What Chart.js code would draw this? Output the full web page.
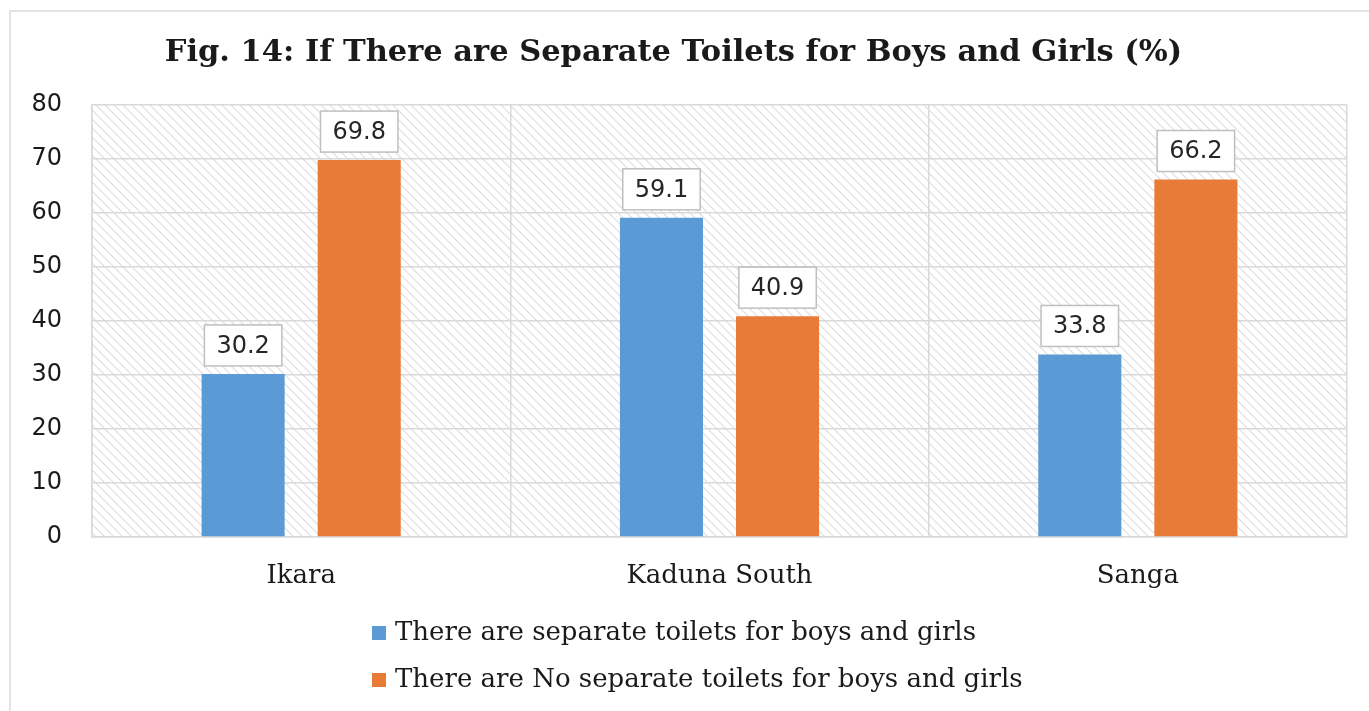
<!DOCTYPE html>
<html>
<head>
<meta charset="utf-8">
<title>Separate toilets</title>
<script src="https://cdn.jsdelivr.net/npm/chart.js@4.4.1/dist/chart.umd.min.js"></script>
<style>
  html, body { margin: 0; padding: 0; background: #fff; }
  #wrap { width: 1369px; height: 711px; }
</style>
</head>
<body>
<div id="wrap"><canvas id="myChart" width="1369" height="711"></canvas></div>
<script>
// LGA names and percentages
const lgas = ['Ikara', 'Kaduna South', 'Sanga'];
const separateYes = [30.2, 59.1, 33.8];
const separateNo = [69.8, 40.9, 66.2];
const seriesNames = [
  'There are separate toilets for boys and girls',
  'There are No separate toilets for boys and girls'
];
const yTicks = [0, 10, 20, 30, 40, 50, 60, 70, 80];

const blue = '#5B9BD5';
const orange = '#E87B37';
const gridCol = '#d9d9d9';

// diagonal hatching for the plot area
function hatchPattern(ctx) {
  let c = document.createElement('canvas');
  c.width = 9; c.height = 9;
  let p = c.getContext('2d');
  p.strokeStyle = '#dedede';
  p.lineWidth = 1.2;
  p.beginPath();
  p.moveTo(-1, -1); p.lineTo(10, 10);
  p.moveTo(-1, 8); p.lineTo(1, 10);
  p.moveTo(8, -1); p.lineTo(10, 1);
  p.stroke();
  return ctx.createPattern(c, 'repeat');
}

const backdrop = {
  id: 'backdrop',
  beforeDraw(chart) {
    const {ctx, chartArea: a} = chart;
    ctx.save();
    ctx.strokeStyle = '#e3e3e3';
    ctx.lineWidth = 2;
    ctx.beginPath();
    ctx.moveTo(10, 711); ctx.lineTo(10, 11); ctx.lineTo(1369, 11);
    ctx.stroke();
    ctx.fillStyle = hatchPattern(ctx);
    ctx.fillRect(a.left, a.top, a.right - a.left, a.bottom - a.top);
    ctx.restore();
  }
};

// value boxes above each bar
const valueBoxes = {
  id: 'valueBoxes',
  afterDatasetsDraw(chart) {
    const ctx = chart.ctx;
    ctx.save();
    ctx.font = '24px "DejaVu Sans"';
    ctx.textAlign = 'center';
    ctx.textBaseline = 'middle';
    chart.data.datasets.forEach((ds, i) => {
      chart.getDatasetMeta(i).data.forEach((bar, j) => {
        const txt = ds.data[j].toFixed(1);
        const w = ctx.measureText(txt).width + 24;
        const h = 41;
        const x = bar.x - w / 2;
        const y = bar.y - 8 - h;
        ctx.fillStyle = '#fff';
        ctx.fillRect(x, y, w, h);
        ctx.strokeStyle = '#bfbfbf';
        ctx.lineWidth = 1.5;
        ctx.strokeRect(x, y, w, h);
        ctx.fillStyle = '#262626';
        ctx.fillText(txt, bar.x, y + h / 2 + 1);
      });
    });
    ctx.restore();
  }
};

// stacked legend under the axis
const stackedLegend = {
  id: 'stackedLegend',
  afterDraw(chart) {
    const ctx = chart.ctx;
    ctx.save();
    ctx.font = '26px "DejaVu Serif"';
    ctx.textBaseline = 'middle';
    chart.data.datasets.forEach((ds, i) => {
      const y = 633 + i * 47;
      ctx.fillStyle = ds.backgroundColor;
      ctx.fillRect(372, y - 7, 14, 14);
      ctx.fillStyle = '#1a1a1a';
      ctx.fillText(ds.label, 395, y);
    });
    ctx.restore();
  }
};

let ctx = document.getElementById('myChart').getContext('2d');
let myChart = new Chart(ctx, {
  type: 'bar',
  data: {
    labels: lgas,
    datasets: [
      { label: seriesNames[0], data: separateYes, backgroundColor: blue },
      { label: seriesNames[1], data: separateNo, backgroundColor: orange }
    ]
  },
  options: {
    responsive: false,
    animation: false,
    layout: { padding: { left: 0, right: 22, top: 0, bottom: 114 } },
    datasets: { bar: { categoryPercentage: 0.555, barPercentage: 0.7155 } },
    plugins: {
      legend: { display: false },
      tooltip: { enabled: false },
      title: {
        display: true,
        text: 'Fig. 14: If There are Separate Toilets for Boys and Girls (%)',
        color: '#1a1a1a',
        font: { family: '"DejaVu Serif"', size: 30.5, weight: 'bold', lineHeight: 1.2 },
        padding: { top: 35, bottom: 33.4 }
      }
    },
    scales: {
      x: {
        grid: { color: gridCol, lineWidth: 1.5, drawTicks: false },
        border: { color: gridCol, width: 1.5 },
        ticks: { color: '#1a1a1a', padding: 24, font: { family: '"DejaVu Serif"', size: 26 } },
        afterFit(scale) { scale.height = 60; }
      },
      y: {
        min: 0, max: 80,
        afterBuildTicks(scale) { scale.ticks = yTicks.map(v => ({ value: v })); },
        grid: { color: gridCol, lineWidth: 1.5, drawTicks: false },
        border: { color: gridCol, width: 1.5 },
        ticks: { color: '#1a1a1a', padding: 30, font: { family: '"DejaVu Sans"', size: 24 } },
        afterFit(scale) { scale.width = 92; }
      }
    }
  },
  plugins: [backdrop, valueBoxes, stackedLegend]
});
</script>
</body>
</html>
